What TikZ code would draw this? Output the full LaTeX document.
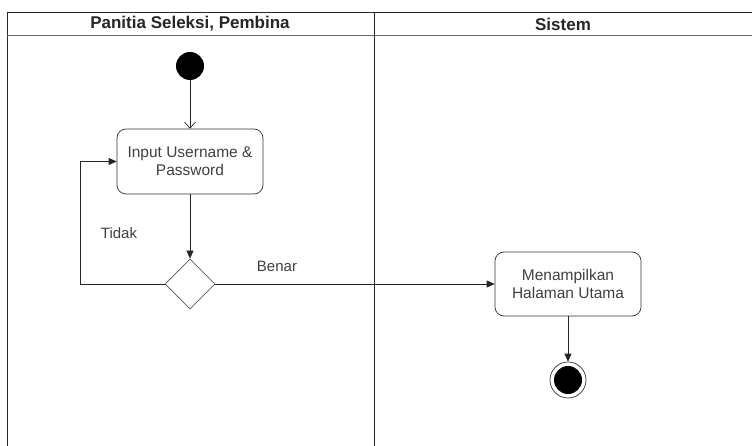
\documentclass[tikz,border=0pt]{standalone}
\usepackage{fontspec}
\setmainfont{Liberation Sans}
\usetikzlibrary{shapes.geometric, arrows.meta, positioning}

\begin{document}
\begin{tikzpicture}[x=1pt, y=-1pt,
    lane/.style={draw=black!85, line width=0.9pt},
    head/.style={font=\fontsize{17}{19}\selectfont\bfseries, text=black!85},
    act/.style={draw=black!80, rounded corners=9pt, minimum width=146pt,
                minimum height=65pt, align=center, line width=0.7pt,
                font=\fontsize{15.5}{18}\selectfont, text=black!75},
    choice/.style={diamond, draw=black!65, minimum width=50pt,
                   minimum height=50pt, inner sep=0pt, line width=0.7pt},
    flow/.style={draw=black!85, line width=0.7pt,
                 -{Triangle[length=8pt, width=7pt]}},
    label/.style={font=\fontsize{15}{18}\selectfont, text=black!75}
]
  \useasboundingbox (0,0) rectangle (752,446);
  % swimlanes
  \draw[lane] (7,446) -- (7,12) -- (752,12);
  \draw[lane, draw=black!60] (7,35) -- (752,35);
  \draw[lane] (374,12) -- (374,446);
  \node[head] (hPanitia) at (190,24) {Panitia Seleksi, Pembina};
  \node[head] (hSistem) at (563,24) {Sistem};

  % nodes
  \node[circle, fill=black, minimum size=28pt, inner sep=0pt] (start) at (190,66) {};
  \node[act] (input) at (190,161.5) {Input Username \&\\Password};
  \node[choice] (cek) at (190,284) {};
  \node[act, minimum height=64pt] (utama) at (568,284) {Menampilkan\\Halaman Utama};
  \node[circle, draw=black!80, line width=0.7pt, minimum size=36pt, inner sep=0pt] (akhir) at (568,380) {};
  \node[circle, fill=black, minimum size=28pt, inner sep=0pt] (akhirDot) at (akhir) {};

  % flows
  \draw[draw=black!85, line width=0.7pt, -{Straight Barb[length=6pt, width=11pt]}]
    (start) -- (input);
  \draw[flow] (input) -- (cek);
  \draw[flow] (cek.west) -- (80,284) -- (80,161.5) -- (input.west);
  \draw[flow] (cek.east) -- (utama.west);
  \draw[flow] (utama) -- (akhir);

  \node[label] (lTidak) at (119,233) {Tidak};
  \node[label] (lBenar) at (277,266) {Benar};
\end{tikzpicture}
\end{document}
